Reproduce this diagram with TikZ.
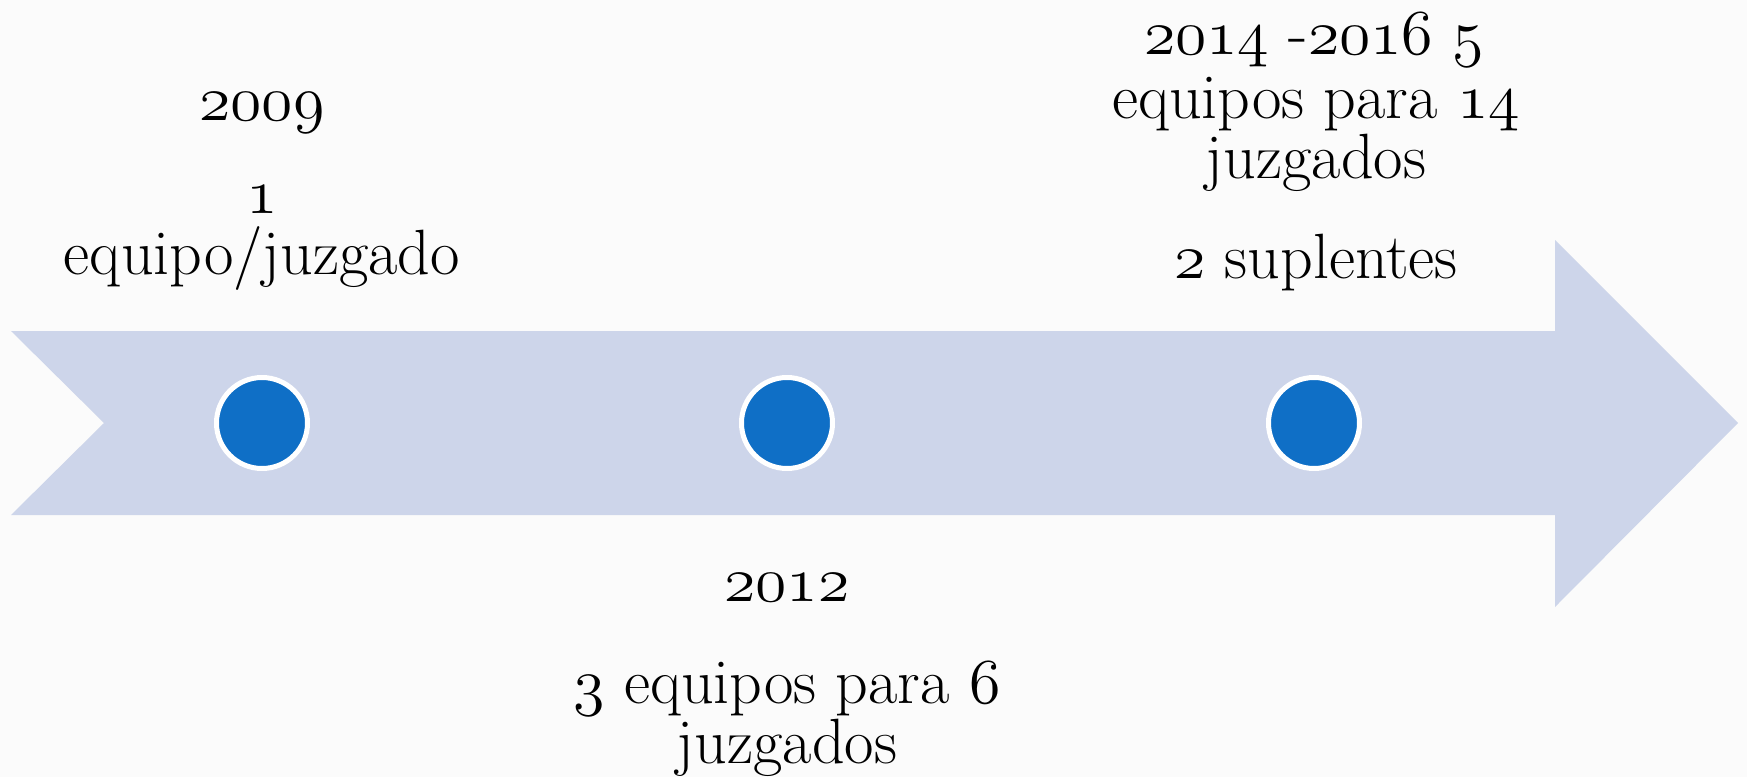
\RequirePackage{fix-cm}
\documentclass[tikz,border=0pt]{standalone}
\usepackage{fontspec}

\definecolor{paper}{RGB}{251,251,251}
\definecolor{band}{RGB}{205,213,234}
\definecolor{dotblue}{RGB}{15,111,198}
\newcommand{\osn}[1]{{\usefont{OML}{cmm}{m}{it}#1}}

\begin{document}
\begin{tikzpicture}[x=0.5pt,y=-0.5pt]

      \fill[paper] (0,0) rectangle (1747,777);
      \fill[band] (11,331) -- (1555,331) -- (1555,240) -- (1738,423)
        -- (1555,607) -- (1555,515) -- (11,515) -- (104,423) -- cycle;

      \begin{scope}[every node/.style={circle, fill=dotblue, draw=white, line width=2.5pt,
          minimum size=45.5pt, inner sep=0pt}]
        \node (d1) at (262,423)  {};
        \node (d2) at (787,423)  {};
        \node (d3) at (1314,423) {};
      \end{scope}

      \begin{scope}[every node/.style={anchor=base, inner sep=0pt,
          font=\fontsize{32}{38}\selectfont}]
        \node (y1)  at (262,120)  {\osn{2009}};
        \node (a1)  at (262,213)  {\osn{1}};
        \node (b1)  at (262,274)  {equipo/juzgado};

        \node (y2)  at (787,601)  {\osn{2012}};
        \node (a2)  at (787,703)  {\osn{3} equipos para \osn{6}};
        \node (b2)  at (787,763)  {juzgados};

        \node (y3)  at (1314,54)  {\osn{2014} -\osn{2016}\ \osn{5}};
        \node (a3)  at (1316,118) {equipos para \osn{14}};
        \node (b3)  at (1316,178) {juzgados};
        \node (c3)  at (1316,278) {\osn{2} suplentes};
      \end{scope}

    \end{tikzpicture}
\end{document}
